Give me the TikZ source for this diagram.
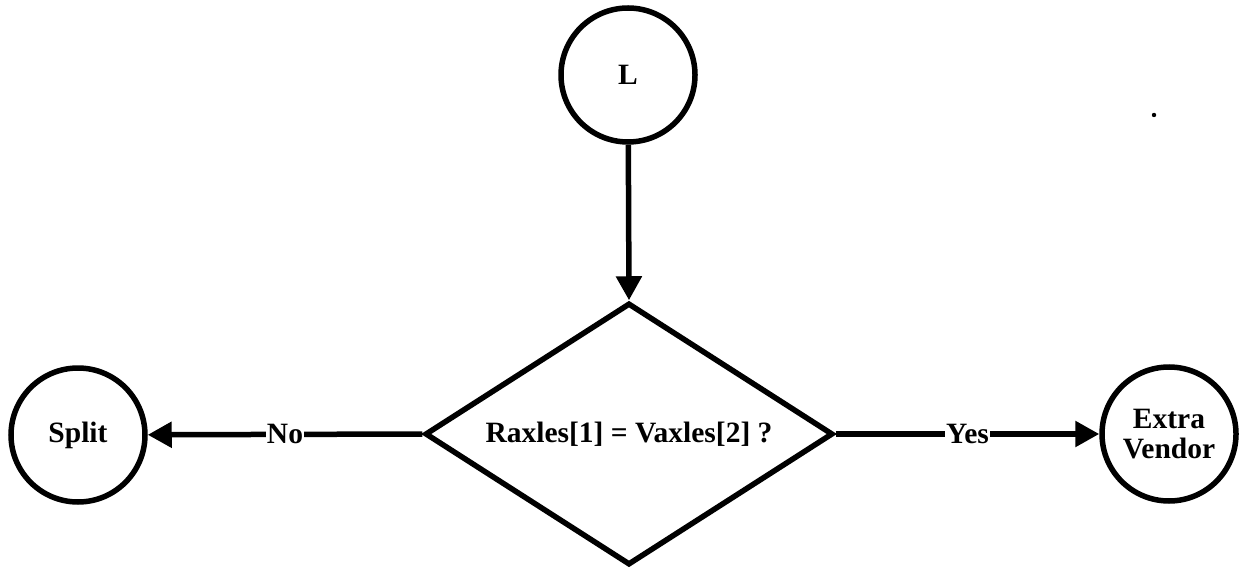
\documentclass[tikz,border=0pt]{standalone}
\usepackage{fontspec}
\setmainfont{Liberation Serif}
\usetikzlibrary{shapes.geometric,arrows.meta}
\begin{document}
\begin{tikzpicture}[x=1pt,y=1pt,
  every node/.style={font=\fontsize{29.5}{30}\selectfont\bfseries},
  state/.style={circle,draw,line width=5.5pt,minimum size=134pt,inner sep=0pt,align=center},
  decision/.style={diamond,aspect=1.56,draw,line width=5.5pt,minimum width=408pt,minimum height=262pt,inner sep=0pt},
  conn/.style={line width=5.5pt,-{Triangle[length=24pt,width=25pt]}},
  lbl/.style={fill=white,inner sep=1pt}]
\useasboundingbox (0,0) rectangle (1246,568);
\node[state] (L) at (628,493) {L};
\node[decision] (D) at (629,134) {Raxles[1] = Vaxles[2] ?};
\node[state] (S) at (78,133) {Split};
\node[state] (E) at (1169,134) {Extra\\[0pt]Vendor};
\fill (1154,453) circle (2.2pt);
\draw[conn] (L) -- (D.north);
\draw[conn] (D.west) -- node[lbl] {No} (S);
\draw[conn] (D.east) -- node[lbl] {Yes} (E);
\end{tikzpicture}
\end{document}
